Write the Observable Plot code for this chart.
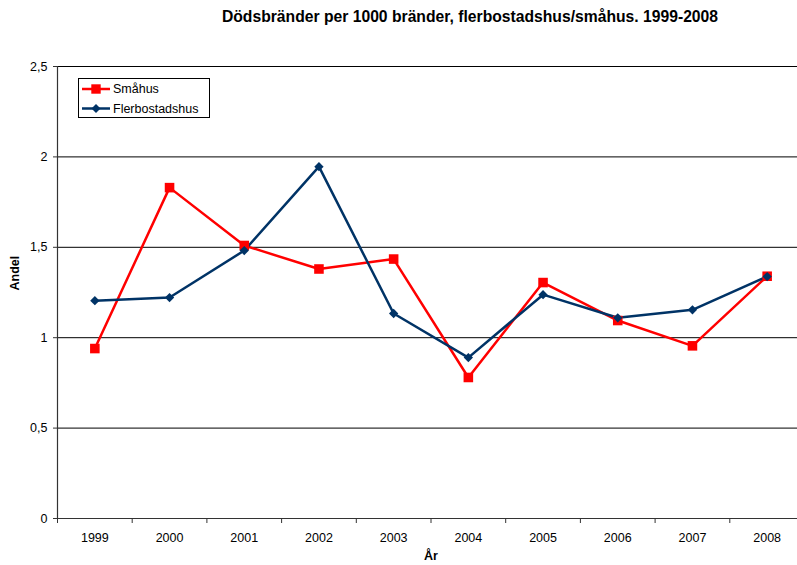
<!DOCTYPE html>
<html>
<head>
<meta charset="utf-8">
<script src="https://cdn.jsdelivr.net/npm/d3@7"></script>
<script src="https://cdn.jsdelivr.net/npm/@observablehq/plot@0.6"></script>
<style>
  html, body { margin: 0; padding: 0; background: white; overflow: hidden; }
  #wrap { position: relative; width: 797px; height: 565px; overflow: hidden; font-family: "Liberation Sans", Arial, sans-serif; }
  #title { position: absolute; top: 8px; left: 470px; transform: translateX(-50%); white-space: nowrap; font-size: 15.7px; font-weight: bold; line-height: 18px; color: #000; }
  #legend { position: absolute; left: 0; top: 0; pointer-events: none; }
</style>
</head>
<body>
<div id="wrap">
  <div id="chart"></div>
  <div id="title">Dödsbränder per 1000 bränder, flerbostadshus/småhus. 1999-2008</div>
</div>
<script>
const years = [1999, 2000, 2001, 2002, 2003, 2004, 2005, 2006, 2007, 2008];
const smahus = [0.94, 1.83, 1.51, 1.38, 1.435, 0.78, 1.305, 1.095, 0.955, 1.34];
const flerbostadshus = [1.205, 1.222, 1.482, 1.946, 1.134, 0.89, 1.238, 1.11, 1.154, 1.338];
const yTicks = [0, 0.5, 1, 1.5, 2, 2.5];
const seriesNames = ["Småhus", "Flerbostadshus"];
const seriesColors = ["#ff0000", "#003366"];

const data = [
  ...years.map((yr, i) => ({year: yr, value: smahus[i], series: seriesNames[0]})),
  ...years.map((yr, i) => ({year: yr, value: flerbostadshus[i], series: seriesNames[1]}))
];
const boundaries = [...years.map(y => y - 0.5), years[years.length - 1] + 0.5];
const redData = data.filter(d => d.series === seriesNames[0]);
const blueData = data.filter(d => d.series === seriesNames[1]);

const chart = Plot.plot({
  width: 804,
  height: 565,
  marginLeft: 57,
  marginRight: 0,
  marginTop: 66,
  marginBottom: 47,
  style: {fontFamily: "Liberation Sans, Arial, sans-serif", fontSize: "12.5px", color: "#000", background: "white", maxWidth: "none"},
  x: {domain: [years[0] - 0.5, years[years.length - 1] + 0.5]},
  y: {domain: [0, 2.5]},
  marks: [
    Plot.gridY(yTicks, {stroke: "#000", strokeOpacity: 1, strokeWidth: 1}),
    Plot.ruleX([years[0] - 0.5], {stroke: "#333", strokeWidth: 1.2}),
    Plot.ruleY([0], {stroke: "#333", strokeWidth: 1.2}),
    Plot.axisY(yTicks, {tickSize: 4, tickPadding: 6, tickFormat: d => String(d).replace(".", ","), label: null, stroke: "#333"}),
    Plot.axisX(years, {tickSize: 0, tickPadding: 15, tickFormat: d => String(d), label: null}),
    Plot.axisX(boundaries, {tickSize: 5, tickFormat: () => "", label: null, stroke: "#333"}),
    Plot.text(["Andel"], {frameAnchor: "left", rotate: -90, dx: -43, dy: -2, fontWeight: "bold", fontSize: 12.5}),
    Plot.text(["År"], {frameAnchor: "bottom", dy: 41, fontWeight: "bold", fontSize: 12.5}),
    Plot.line(redData, {x: "year", y: "value", stroke: seriesColors[0], strokeWidth: 2.5}),
    Plot.line(blueData, {x: "year", y: "value", stroke: seriesColors[1], strokeWidth: 2.5}),
    Plot.dot(redData, {x: "year", y: "value", symbol: "square", r: 5.4, fill: seriesColors[0], stroke: "none"}),
    Plot.dot(blueData, {x: "year", y: "value", symbol: "diamond2", r: 4.2, fill: seriesColors[1], stroke: "none"})
  ]
});
document.getElementById("chart").appendChild(chart);

// Legend
const svg = d3.select("#wrap").append("svg")
  .attr("id", "legend").attr("width", 797).attr("height", 565);
svg.append("rect").attr("x", 78.5).attr("y", 78.5).attr("width", 131).attr("height", 39)
  .attr("fill", "white").attr("stroke", "#000").attr("stroke-width", 1);
const rowsY = [89, 108.5];
seriesNames.forEach((name, i) => {
  const g = svg.append("g").attr("transform", `translate(0,${rowsY[i]})`);
  g.append("line").attr("x1", 82).attr("x2", 110).attr("y1", 0).attr("y2", 0)
    .attr("stroke", seriesColors[i]).attr("stroke-width", 2.5);
  if (i === 0) {
    g.append("rect").attr("x", 96 - 4.7).attr("y", -4.7).attr("width", 9.4).attr("height", 9.4).attr("fill", seriesColors[i]);
  } else {
    g.append("path").attr("d", "M96,-4.5L100.5,0L96,4.5L91.5,0Z").attr("fill", seriesColors[i]);
  }
  g.append("text").attr("x", 113).attr("y", 0).attr("dy", "0.35em")
    .attr("font-family", "Liberation Sans, Arial, sans-serif").attr("font-size", "12.5px")
    .attr("fill", "#000").text(name);
});
</script>
</body>
</html>
